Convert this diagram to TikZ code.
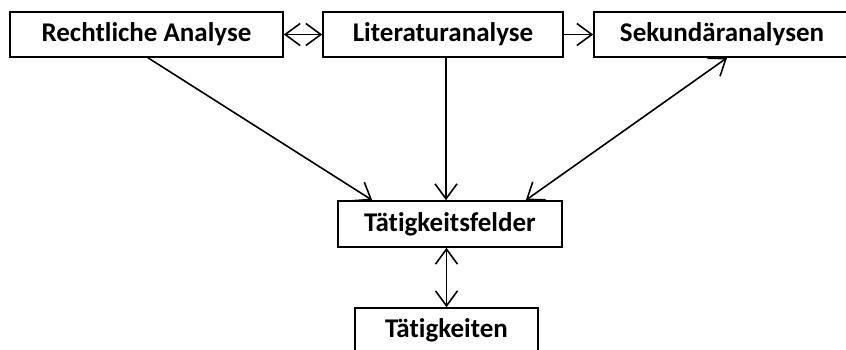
\documentclass[tikz,border=0pt]{standalone}
\usepackage{fontspec}
\setmainfont{Carlito}[Ligatures=NoCommon]
\usetikzlibrary{arrows.meta,positioning}

\begin{document}
\begin{tikzpicture}[x=1pt, y=-1pt, line width=1.6pt, >={Straight Barb[length=15pt,width=22pt,line width=1.6pt]}, kasten/.style={draw, rectangle, minimum height=45pt, inner sep=0pt}, schrift/.style={font=\bfseries\fontsize{27}{32}\selectfont}]

\useasboundingbox (0,0) rectangle (846,349);
\node[kasten, schrift, minimum width=273pt] (rechtl) at (146.5,34.5) {Rechtliche Analyse};
\node[kasten, schrift, minimum width=240pt] (lit) at (443,34.5) {Literaturanalyse};
\node[kasten, schrift, minimum width=256pt] (sek) at (722,34.5) {Sekund\"aranalysen};
\node[kasten, schrift, minimum width=224pt, minimum height=46pt] (felder) at (450,224) {T\"atigkeitsfelder};
\node[kasten, schrift, minimum width=183pt] (taet) at (446.5,330.5) {T\"atigkeiten};

\draw[<->] (rechtl) -- (lit);
\draw[->] (lit) -- (sek);
\draw[->] ([xshift=1.5pt]rechtl.south) -- ([xshift=35pt]felder.north west);
\draw[->] ([xshift=3pt]lit.south) -- ([xshift=3pt]lit.south |- felder.north);
\draw[<->] ([xshift=-37pt]felder.north east) -- ([xshift=5pt]sek.south);
\draw[<->] (felder.south -| taet.north) -- (taet.north);
\end{tikzpicture}
\end{document}
